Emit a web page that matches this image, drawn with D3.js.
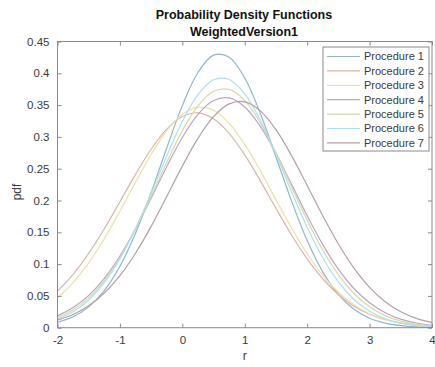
<!DOCTYPE html>
<html>
<head>
<meta charset="utf-8">
<script src="https://cdn.jsdelivr.net/npm/d3@7"></script>
<style>
  body { margin: 0; background: #fff; }
  svg { font-family: "Liberation Sans", Arial, sans-serif; }
</style>
</head>
<body>
<svg id="pdf-chart" width="435" height="367"></svg>
<script>
// sample positions along r
const rValues = [-2, -1.75, -1.5, -1.25, -1, -0.75, -0.5, -0.25, 0, 0.25, 0.5, 0.75, 1,
  1.25, 1.5, 1.75, 2, 2.25, 2.5, 2.75, 3, 3.25, 3.5, 3.75, 4];

// pdf values, one list per procedure
const procedure1 = [0.0083, 0.0171, 0.0328, 0.0583, 0.0965, 0.1486, 0.2125, 0.2826, 0.3492, 0.4012, 0.4285, 0.4254, 0.3925,
  0.3367, 0.2685, 0.1990, 0.1371, 0.0878, 0.0523, 0.0289, 0.0149, 0.0071, 0.0032, 0.0013, 0.0005];
const procedure2 = [0.0576, 0.0839, 0.1168, 0.1555, 0.1981, 0.2411, 0.2806, 0.3122, 0.3322, 0.3379, 0.3286, 0.3056, 0.2717,
  0.2309, 0.1877, 0.1458, 0.1083, 0.0770, 0.0523, 0.0339, 0.0211, 0.0125, 0.0071, 0.0039, 0.0020];
const procedure3 = [0.0470, 0.0708, 0.1019, 0.1399, 0.1832, 0.2287, 0.2724, 0.3095, 0.3354, 0.3467, 0.3418, 0.3214, 0.2883,
  0.2467, 0.2013, 0.1567, 0.1163, 0.0824, 0.0557, 0.0359, 0.0220, 0.0129, 0.0072, 0.0039, 0.0020];
const procedure4 = [0.0186, 0.0316, 0.0508, 0.0777, 0.1128, 0.1555, 0.2036, 0.2532, 0.2990, 0.3354, 0.3572, 0.3613, 0.3470,
  0.3165, 0.2742, 0.2256, 0.1762, 0.1307, 0.0921, 0.0616, 0.0392, 0.0236, 0.0135, 0.0074, 0.0038];
const procedure5 = [0.0161, 0.0284, 0.0472, 0.0742, 0.1103, 0.1552, 0.2066, 0.2601, 0.3097, 0.3489, 0.3718, 0.3746, 0.3571,
  0.3221, 0.2747, 0.2216, 0.1691, 0.1221, 0.0834, 0.0538, 0.0329, 0.0190, 0.0104, 0.0054, 0.0026];
const procedure6 = [0.0137, 0.0251, 0.0435, 0.0707, 0.1082, 0.1559, 0.2115, 0.2699, 0.3241, 0.3664, 0.3898, 0.3903, 0.3677,
  0.3261, 0.2722, 0.2138, 0.1580, 0.1100, 0.0720, 0.0444, 0.0257, 0.0140, 0.0072, 0.0035, 0.0016];
const procedure7 = [0.0119, 0.0208, 0.0345, 0.0545, 0.0819, 0.1171, 0.1593, 0.2063, 0.2541, 0.2977, 0.3318, 0.3519, 0.3551,
  0.3409, 0.3113, 0.2705, 0.2236, 0.1759, 0.1316, 0.0937, 0.0635, 0.0409, 0.0251, 0.0146, 0.0081];

const seriesNames = ['Procedure 1', 'Procedure 2', 'Procedure 3', 'Procedure 4', 'Procedure 5', 'Procedure 6', 'Procedure 7'];
const seriesValues = [procedure1, procedure2, procedure3, procedure4, procedure5, procedure6, procedure7];

const xTicks = [-2, -1, 0, 1, 2, 3, 4];
const yTicks = [0, 0.05, 0.1, 0.15, 0.2, 0.25, 0.3, 0.35, 0.4, 0.45];

const lineColors = ['#8fb6cb', '#dbb6a9', '#eee0a8', '#bea4c5', '#d6d9a6', '#ade0ed', '#b89ea7'];
const axisColor = '#8a8a8a';
const textColor = '#3a3a3a';

const plotLeft = 57.5, plotRight = 432, plotTop = 41.5, plotBottom = 327.7;

const svg = d3.select('#pdf-chart');

const x = d3.scaleLinear().domain([-2, 4]).range([plotLeft, plotRight]);
const y = d3.scaleLinear().domain([0, 0.45]).range([plotBottom, plotTop]);

// title
svg.append('text')
  .attr('x', 244).attr('y', 19)
  .attr('text-anchor', 'middle')
  .style('font-size', '12.5px').style('font-weight', 'bold').attr('fill', '#111')
  .text('Probability Density Functions');
svg.append('text')
  .attr('x', 244).attr('y', 36)
  .attr('text-anchor', 'middle')
  .style('font-size', '12.5px').style('font-weight', 'bold').attr('fill', '#111')
  .text('WeightedVersion1');

// curves
const line = d3.line()
  .x((d, i) => x(rValues[i]))
  .y(d => y(d))
  .curve(d3.curveCatmullRom);

svg.append('g')
  .selectAll('path')
  .data(seriesValues)
  .enter().append('path')
  .attr('d', line)
  .attr('fill', 'none')
  .attr('stroke', (d, i) => lineColors[i])
  .attr('stroke-width', 1.2);

function styleAxis(g) {
  g.select('.domain').remove();
  g.selectAll('.tick line').attr('stroke', axisColor);
  g.selectAll('.tick text').attr('fill', textColor).style('font-size', '11.5px');
}

// axes with ticks pointing inwards, matlab style box
svg.append('g')
  .attr('transform', 'translate(0,' + plotBottom + ')')
  .call(d3.axisBottom(x).tickValues(xTicks).tickSizeInner(-4).tickSizeOuter(0).tickPadding(8).tickFormat(d => String(d)))
  .call(styleAxis);
svg.append('g')
  .attr('transform', 'translate(0,' + plotTop + ')')
  .call(d3.axisTop(x).tickValues(xTicks).tickSizeInner(-4).tickSizeOuter(0).tickFormat(''))
  .call(styleAxis);
svg.append('g')
  .attr('transform', 'translate(' + plotLeft + ',0)')
  .call(d3.axisLeft(y).tickValues(yTicks).tickSizeInner(-4).tickSizeOuter(0).tickPadding(8).tickFormat(d => String(d)))
  .call(styleAxis);
svg.append('g')
  .attr('transform', 'translate(' + plotRight + ',0)')
  .call(d3.axisRight(y).tickValues(yTicks).tickSizeInner(-4).tickSizeOuter(0).tickFormat(''))
  .call(styleAxis);

svg.append('rect')
  .attr('x', plotLeft).attr('y', plotTop)
  .attr('width', plotRight - plotLeft).attr('height', plotBottom - plotTop)
  .attr('fill', 'none').attr('stroke', axisColor).attr('stroke-width', 1);

// axis labels
svg.append('text')
  .attr('x', x(1)).attr('y', 360)
  .attr('text-anchor', 'middle')
  .style('font-size', '12px').attr('fill', textColor)
  .text('r');
svg.append('text')
  .attr('transform', 'translate(21,' + 192 + ') rotate(-90)')
  .attr('text-anchor', 'middle')
  .style('font-size', '12px').attr('fill', textColor)
  .text('pdf');

// legend
const legend = svg.append('g');
legend.append('rect')
  .attr('x', 323).attr('y', 47)
  .attr('width', 106).attr('height', 104)
  .attr('fill', '#fff').attr('stroke', axisColor);

const item = legend.selectAll('g.item')
  .data(seriesNames)
  .enter().append('g')
  .attr('class', 'item')
  .attr('transform', (d, i) => 'translate(0,' + (56.5 + i * 14.4) + ')');
item.append('line')
  .attr('x1', 327).attr('x2', 360)
  .attr('stroke', (d, i) => lineColors[i])
  .attr('stroke-width', 1.2);
item.append('text')
  .attr('x', 364).attr('dy', '0.35em')
  .style('font-size', '11px').attr('fill', textColor)
  .text(d => d);
</script>
</body>
</html>
